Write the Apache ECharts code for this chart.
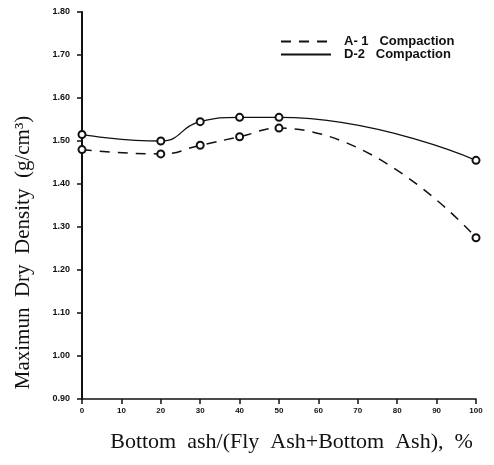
<!DOCTYPE html>
<html><head><meta charset="utf-8">
<script src="https://cdn.jsdelivr.net/npm/echarts@6/dist/echarts.min.js"></script>
<style>html,body{margin:0;padding:0;background:#fff}#c{width:494px;height:465px}</style>
</head><body><div id="c"></div>
<script>
var xValues = [0, 20, 30, 40, 50, 100];
var seriesA1 = [1.48, 1.47, 1.49, 1.51, 1.53, 1.275];
var seriesD2 = [1.515, 1.50, 1.545, 1.555, 1.555, 1.455];
var seriesNames = ['A- 1   Compaction', 'D-2   Compaction'];
var xTickLabels = {0:'0',10:'10',20:'20',30:'30',40:'40',50:'50',60:'60',70:'70',80:'80',90:'90',100:'100'};

var chart = echarts.init(document.getElementById('c'));
function pairs(ys){ return xValues.map(function(x,i){ return [x, ys[i]]; }); }
chart.setOption({
  animation: false,
  backgroundColor: '#fff',
  grid: {left: 82, right: 18, top: 12, bottom: 66},
  legend: {
    orient: 'vertical', left: 275, top: 30, itemWidth: 50, itemHeight: 10, itemGap: 0,
    itemStyle: {opacity: 0},
    textStyle: {fontFamily: 'Liberation Sans', fontSize: 13, fontWeight: 'bold', color: '#111', lineHeight: 12, padding: [0,0,0,8]},
    data: seriesNames
  },
  xAxis: {
    type: 'value', min: 0, max: 100, interval: 10,
    axisLine: {lineStyle: {color: '#111', width: 1.5}},
    axisTick: {length: 5, lineStyle: {color: '#111', width: 1.5}},
    splitLine: {show: false},
    axisLabel: {formatter: function(v){ return xTickLabels[v]; }, fontSize: 8, fontWeight: 'bold', color: '#111', margin: 8, fontFamily: 'Liberation Sans'},
    name: 'Bottom  ash/(Fly  Ash+Bottom  Ash),  %', nameLocation: 'middle', nameGap: 32,
    nameTextStyle: {fontFamily: 'Liberation Serif', fontSize: 22, color: '#111', padding: [0,0,0,25]}
  },
  yAxis: {
    type: 'value', min: 0.9, max: 1.8, interval: 0.1,
    axisLine: {show: true, lineStyle: {color: '#111', width: 2}},
    axisTick: {show: true, length: 5, lineStyle: {color: '#111', width: 1.5}},
    splitLine: {show: false},
    axisLabel: {formatter: function(v){ return v.toFixed(2); }, fontSize: 9, fontWeight: 'bold', color: '#111', margin: 12, fontFamily: 'Liberation Sans'},
    name: 'Maximun  Dry  Density  (g/cm³)', nameLocation: 'middle', nameGap: 48,
    nameTextStyle: {fontFamily: 'Liberation Serif', fontSize: 21, color: '#111', padding: [0,94,0,0]}
  },
  series: [
    {name: seriesNames[0], type: 'line', smooth: 0.5, data: pairs(seriesA1),
     symbol: 'emptyCircle', symbolSize: 7, showSymbol: true, color: '#111',
     lineStyle: {color: '#111', width: 1.5, type: [10, 8]},
     itemStyle: {color: '#111', borderWidth: 1.5}},
    {name: seriesNames[1], type: 'line', smooth: 0.5, data: pairs(seriesD2),
     symbol: 'emptyCircle', symbolSize: 7, showSymbol: true, color: '#111',
     lineStyle: {color: '#111', width: 1.3},
     itemStyle: {color: '#111', borderWidth: 1.5}}
  ]
});
</script></body></html>
